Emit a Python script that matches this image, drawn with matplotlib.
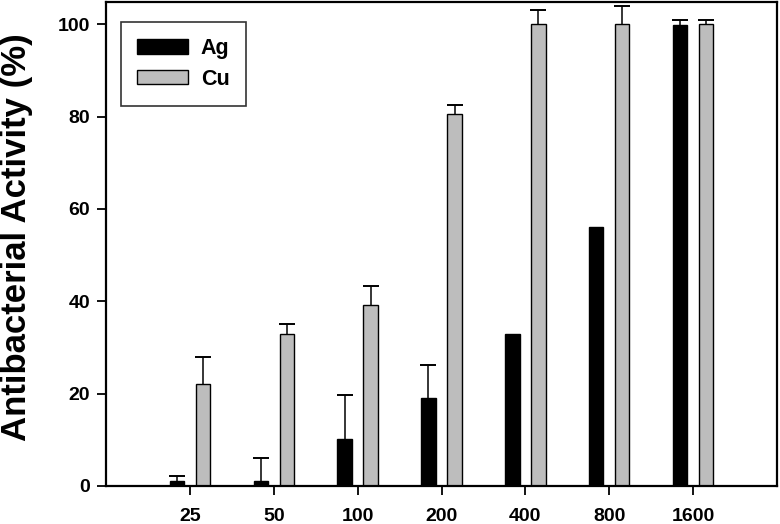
import matplotlib
matplotlib.use("Agg")
import matplotlib.pyplot as plt
import numpy as np

plt.rcParams['font.family'] = ['Liberation Sans', 'DejaVu Sans']
plt.rcParams['font.weight'] = 'bold'

categories = ['25', '50', '100', '200', '400', '800', '1600']
ag_values = [1.0, 1.0, 10.1, 19.0, 33.0, 56.0, 99.8]
ag_errors = [1.1, 5.0, 9.7, 7.2, 0.0, 0.0, 1.1]
cu_values = [22.0, 33.0, 39.2, 80.6, 100.0, 100.0, 100.0]
cu_errors = [6.0, 2.1, 4.0, 2.0, 3.0, 3.9, 1.0]

fig = plt.figure(figsize=(7.8, 5.24), dpi=100)
ax = fig.add_axes([106/780, 1 - 486/524, (777-106)/780, (486-2)/524])

x = np.arange(1, len(categories) + 1)
w = 0.17
off = 0.155
ax.bar(x - off, ag_values, w, color='black', edgecolor='black', linewidth=1, label='Ag', zorder=2)
ax.bar(x + off, cu_values, w, color='#bdbdbd', edgecolor='black', linewidth=1, label='Cu', zorder=2)

ag_mask = [e > 0 for e in ag_errors]
eb1 = ax.errorbar((x - off)[ag_mask], np.array(ag_values)[ag_mask],
                  yerr=[np.zeros(sum(ag_mask)), np.array(ag_errors)[ag_mask]],
                  fmt='none', ecolor='black', elinewidth=1.1, capsize=5.5, capthick=1.4, zorder=1)
eb2 = ax.errorbar(x + off, cu_values, yerr=[np.zeros(len(x)), cu_errors],
                  fmt='none', ecolor='black', elinewidth=1.1, capsize=5.5, capthick=1.4, zorder=1)
# only upper caps, as in the reference
for eb in (eb1, eb2):
    eb[1][0].set_visible(False)

ax.set_xlim(0, 8)
ax.set_ylim(0, 104.8)
ax.set_xticks(x)
ax.set_xticklabels(categories, fontsize=14, fontweight='bold')
ax.set_yticks([0, 20, 40, 60, 80, 100])
ax.set_yticklabels(['0', '20', '40', '60', '80', '100'], fontsize=14, fontweight='bold')
ax.tick_params(axis='both', direction='out', length=6.5, width=1.3)
ax.tick_params(axis='x', pad=9)
ax.tick_params(axis='y', pad=5)
for s in ax.spines.values():
    s.set_linewidth(1.6)

ax.set_ylabel('Antibacterial Activity (%)', fontsize=25, fontweight='bold', va='center')
ax.yaxis.set_label_coords((17 - 106) / 671, (486 - 237) / 484)

leg = ax.legend(loc='upper left', bbox_to_anchor=((121-106)/671, 1 - (22-2)/484),
                fontsize=15.5, frameon=True, fancybox=False, edgecolor='black',
                handlelength=2.35, handleheight=0.65, borderpad=0.75, labelspacing=0.45,
                handletextpad=0.6, borderaxespad=0)
leg.get_frame().set_linewidth(1.2)
for t in leg.get_texts():
    t.set_fontweight('bold')

fig.savefig('out.png', dpi=100)
